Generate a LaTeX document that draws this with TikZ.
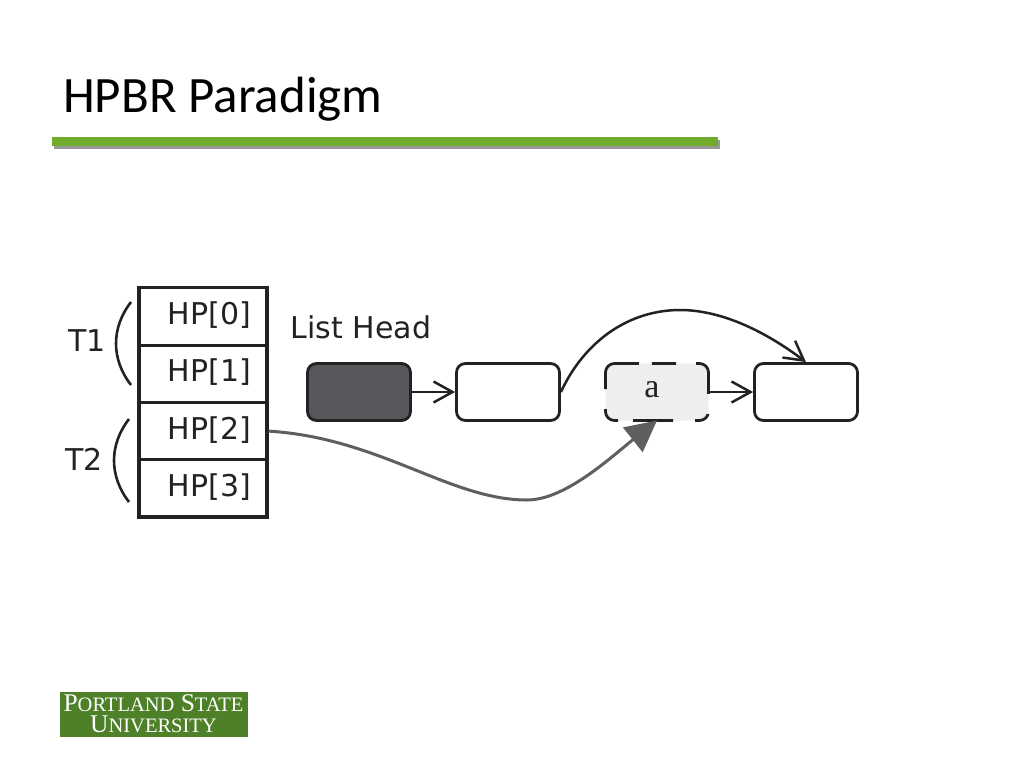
\documentclass[tikz,border=0pt]{standalone}
\usepackage{fontspec}
\setmainfont{DejaVu Sans}
\newfontfamily\titlefont{Carlito}
\newfontfamily\logofont{Liberation Serif}
\usetikzlibrary{arrows.meta,shadows}
\definecolor{psugreen}{RGB}{78,128,40}
\definecolor{barfill}{RGB}{112,172,44}
\definecolor{inkgray}{RGB}{34,34,34}
\definecolor{darkfill}{RGB}{88,88,92}
\definecolor{arrowgray}{RGB}{95,95,98}
\definecolor{lightfill}{RGB}{238,238,240}
\tikzstyle{hpcell} = [rectangle, minimum width=128pt, minimum height=57.3pt, draw=inkgray, line width=3.2pt, text=inkgray, font=\fontsize{30}{34}\selectfont, inner sep=0pt, text width=96pt, text height=22pt, text depth=6pt, align=right]
\tikzstyle{listbox} = [rectangle, rounded corners=9pt, minimum width=103pt, minimum height=57pt, draw=inkgray, line width=2.8pt, fill=white, inner sep=0pt]
\tikzstyle{arrow} = [line width=2.5pt, color=inkgray, -{Straight Barb[length=19pt,width=21pt,line width=2.5pt]}]
\tikzstyle{paren} = [line width=2.6pt, color=inkgray]
\tikzstyle{label} = [text=inkgray, font=\fontsize{30}{34}\selectfont, inner sep=0pt]
\newcommand{\logoA}{\fontsize{25.5}{22.5}\selectfont}
\newcommand{\logoB}{\fontsize{20.5}{22.5}\selectfont}
\begin{document}
\begin{tikzpicture}[x=1pt, y=-1pt]
\useasboundingbox (0,0) rectangle (1024,768);
% Title and bar
\node[font=\titlefont\fontsize{51}{60}\selectfont, anchor=base west, inner sep=0pt] (title) at (63,112) {HPBR Paradigm};
\node[rectangle, minimum width=666pt, minimum height=9pt, inner sep=0pt, fill=barfill, drop shadow={shadow xshift=2pt, shadow yshift=-3pt, fill=gray, opacity=0.8}] (bar) at (385,141.5) {};

% Hazard pointer table
\node[hpcell] (hp0) at (203,316.5) {HP[0]};
\node[hpcell] (hp1) at (203,373.8) {HP[1]};
\node[hpcell] (hp2) at (203,431.1) {HP[2]};
\node[hpcell] (hp3) at (203,488.4) {HP[3]};

% Threads
\node[label] (t1) at (87,341) {T1};
\node[label] (t2) at (84,459) {T2};
\coordinate (t1top) at (131,302);
\coordinate (t1bot) at (131,385);
\coordinate (t2top) at (129,419);
\coordinate (t2bot) at (129,502);
\draw[paren] (t1top) .. controls (111,328) and (111,359) .. (t1bot);
\draw[paren] (t2top) .. controls (109,445) and (109,476) .. (t2bot);

% List
\node[label] (head) at (361,327) {List Head};
\node[listbox, fill=darkfill] (n0) at (359,392) {};
\node[listbox] (n1) at (508,392) {};
\node[listbox, draw=none, fill=lightfill, outer sep=0pt] (na) at (657,392) {};
\draw[line width=2.8pt, color=inkgray, rounded corners=9pt, dash pattern=on 18pt off 20pt on 39pt off 20pt on 16pt off 22pt on 40pt off 15pt on 20pt off 20pt on 55pt off 13pt on 9pt off 0pt, dash phase=8pt] (na.north) -- (na.north east) -- (na.south east) -- (na.south west) -- (na.north west) -- cycle;
\node[font=\logofont\fontsize{34}{38}\selectfont, text=inkgray, inner sep=0pt] (alabel) at (652,390) {a};
\node[listbox] (n2) at (806,392) {};

% Arrows
\coordinate (peak) at (680,310);
\coordinate (dip) at (527,500);
\draw[arrow] (n0) -- (n1);
\draw[arrow] (na) -- (n2);
\draw[arrow] (n1.east) .. controls (585,340) and (630,310) .. (peak) .. controls (725,310) and (770,335) .. (n2.north);
\draw[line width=3pt, color=arrowgray, -{Triangle[length=31pt,width=31pt]}] (hp2.east) .. controls (380,438) and (450,500) .. (dip) .. controls (565,500) and (610,458) .. (na.south);

% Logo
\node[rectangle, minimum width=188pt, minimum height=45pt, inner sep=0pt, fill=psugreen] (logo) at (154,714.5) {};
\node[text=white, font=\logofont, inner sep=0pt, align=center] (logotext) at (153.5,713.5) {\logoA P\logoB ORTLAND\logoA{} S\logoB TATE\\[3pt]\logoA U\logoB NIVERSITY};
\end{tikzpicture}
\end{document}
